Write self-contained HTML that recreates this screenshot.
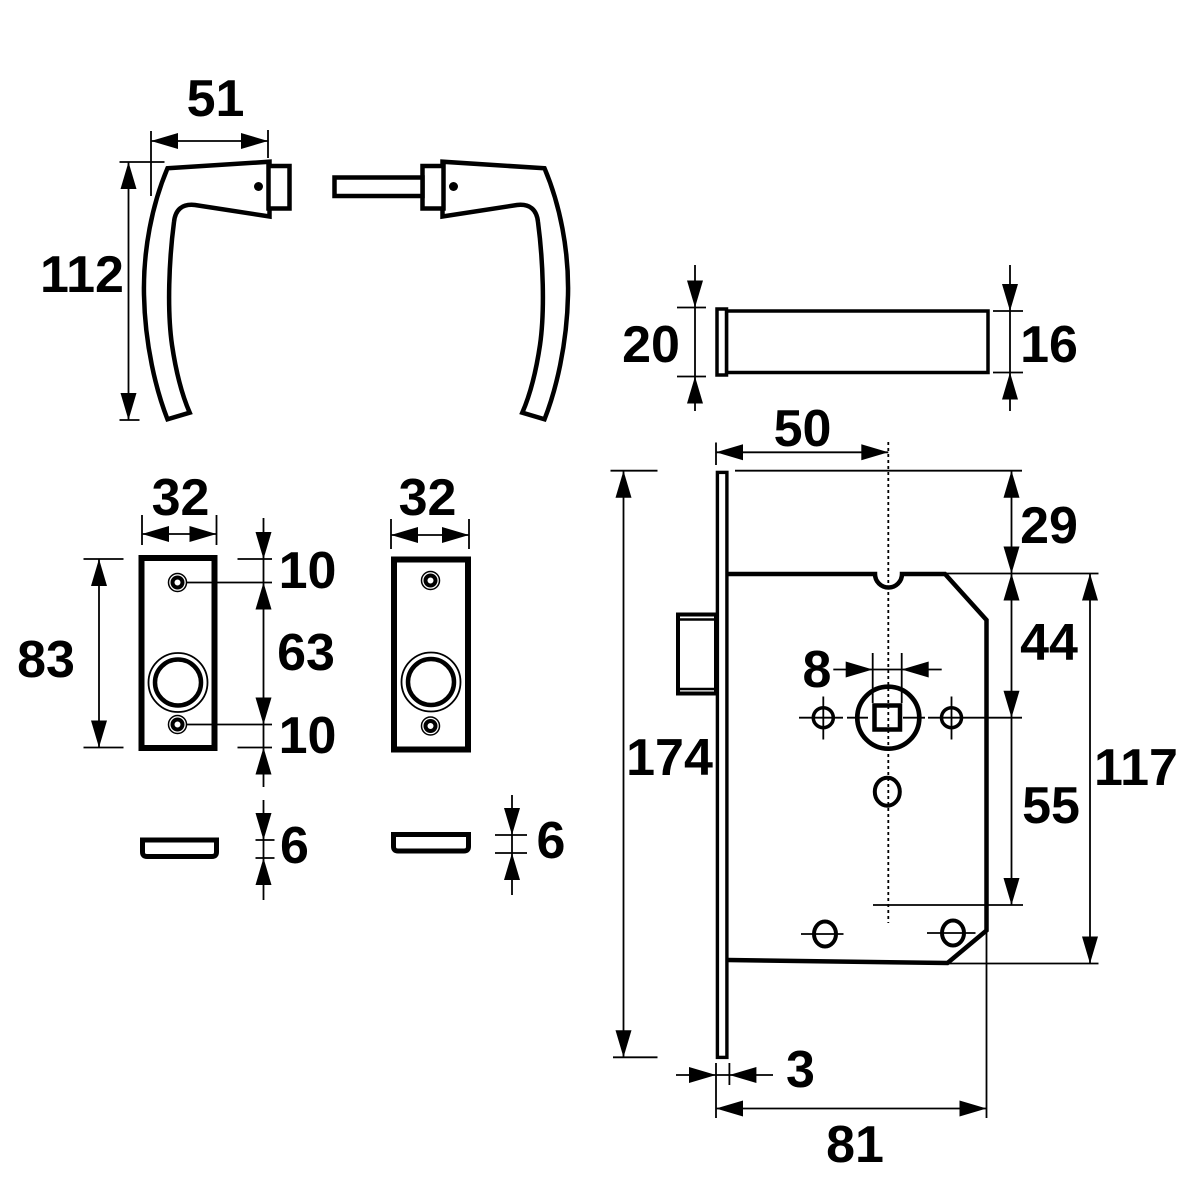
<!DOCTYPE html>
<html><head><meta charset="utf-8"><style>
html,body{margin:0;padding:0;background:#fff;}
svg{display:block;}
text{font-family:"Liberation Sans",Arial,sans-serif;font-weight:bold;font-size:52px;fill:#000;text-anchor:middle;}
</style></head><body>
<svg width="1181" height="1181" viewBox="0 0 1181 1181" xmlns="http://www.w3.org/2000/svg">
<rect width="1181" height="1181" fill="#fff"/>

<!-- ===== Handles ===== -->
<g id="lh" fill="#fff" stroke="#000" stroke-width="4.5" stroke-linejoin="miter">
  <path d="M167.5,168.3 L269.5,161.7 L269.5,216.5 L195,205 Q176,203 174,222 C169,260 167,310 172,345 C176,372 182,395 189.7,412.7 L167.5,419.3 C156,390 145,345 144,295 C143,250 152,205 167.5,168.3 Z"/>
  <rect x="268.5" y="166" width="21" height="42.5" stroke-width="4.5"/>
  <circle cx="258.5" cy="186.5" r="4.5" fill="#000" stroke="none"/>
</g>
<g transform="translate(712,0) scale(-1,1)" fill="#fff" stroke="#000" stroke-width="4.5">
  <path d="M167.5,168.3 L269.5,161.7 L269.5,216.5 L195,205 Q176,203 174,222 C169,260 167,310 172,345 C176,372 182,395 189.7,412.7 L167.5,419.3 C156,390 145,345 144,295 C143,250 152,205 167.5,168.3 Z"/>
  <rect x="268.5" y="166" width="21" height="42.5"/>
  <circle cx="258.5" cy="186.5" r="4.5" fill="#000" stroke="none"/>
</g>
<rect x="334.5" y="177.5" width="88" height="18.5" fill="#fff" stroke="#000" stroke-width="4.5"/>

<!-- handle dims -->
<g stroke="#000" stroke-width="1.8" fill="none">
  <line x1="151" y1="131" x2="151" y2="196"/>
  <line x1="268" y1="130" x2="268" y2="158"/>
  <line x1="151" y1="141" x2="268" y2="141"/>
  <line x1="119.5" y1="162" x2="164.5" y2="162"/>
  <line x1="128.5" y1="162" x2="128.5" y2="420"/>
  <line x1="119.5" y1="420" x2="139.5" y2="420"/>
</g>
<g fill="#000">
  <polygon points="151,141 178,133 178,149"/>
  <polygon points="268,141 241,133 241,149"/>
  <polygon points="128.5,162 120.5,189 136.5,189"/>
  <polygon points="128.5,420 120.5,393 136.5,393"/>
</g>
<text x="215.5" y="116">51</text>
<text x="82" y="292">112</text>

<!-- ===== Cylinder ===== -->
<g fill="#fff" stroke="#000" stroke-width="3.5">
  <rect x="726.5" y="311" width="261.5" height="61.5"/>
  <rect x="717" y="309" width="9.5" height="66"/>
</g>
<g stroke="#000" stroke-width="1.8">
  <line x1="695" y1="265" x2="695" y2="411"/>
  <line x1="677" y1="307.5" x2="706" y2="307.5"/>
  <line x1="677" y1="376.5" x2="706" y2="376.5"/>
  <line x1="1010" y1="265" x2="1010" y2="411"/>
  <line x1="993" y1="311" x2="1023" y2="311"/>
  <line x1="993" y1="372.5" x2="1023" y2="372.5"/>
</g>
<g fill="#000">
  <polygon points="695,307.5 687,280.5 703,280.5"/>
  <polygon points="695,376.5 687,403.5 703,403.5"/>
  <polygon points="1010,311 1002,284 1018,284"/>
  <polygon points="1010,372.5 1002,399.5 1018,399.5"/>
</g>
<text x="651" y="362">20</text>
<text x="1049" y="362">16</text>

<!-- ===== Plates ===== -->
<g fill="#fff" stroke="#000" stroke-width="6">
  <rect x="141.5" y="558" width="73" height="190"/>
  <rect x="394" y="559.5" width="74" height="190"/>
</g>
<g fill="none" stroke="#000">
  <!-- left plate holes -->
  <circle cx="177.5" cy="582.5" r="9" stroke-width="1.5"/>
  <circle cx="177.5" cy="582.5" r="5" stroke-width="4"/>
  <circle cx="177.5" cy="724.5" r="9" stroke-width="1.5"/>
  <circle cx="177.5" cy="724.5" r="5" stroke-width="4"/>
  <circle cx="178" cy="682.5" r="29.5" stroke-width="1.8"/>
  <circle cx="178" cy="682.5" r="23" stroke-width="4.5"/>
  <!-- right plate holes -->
  <circle cx="430.5" cy="580.5" r="9" stroke-width="1.5"/>
  <circle cx="430.5" cy="580.5" r="5" stroke-width="4"/>
  <circle cx="430.5" cy="726" r="9" stroke-width="1.5"/>
  <circle cx="430.5" cy="726" r="5" stroke-width="4"/>
  <circle cx="431" cy="682" r="29.5" stroke-width="1.8"/>
  <circle cx="431" cy="682" r="23" stroke-width="4.5"/>
</g>
<!-- side views -->
<g fill="#fff" stroke="#000" stroke-width="5">
  <path d="M142.5,840 L216.5,840 L216.5,852 Q216.5,856.5 212,856.5 L147,856.5 Q142.5,856.5 142.5,852 Z"/>
  <path d="M393.5,834.5 L468.5,834.5 L468.5,846.5 Q468.5,851 464,851 L398,851 Q393.5,851 393.5,846.5 Z"/>
</g>
<!-- plate dims -->
<g stroke="#000" stroke-width="1.8">
  <line x1="142" y1="515" x2="142" y2="545"/>
  <line x1="216.5" y1="515" x2="216.5" y2="545"/>
  <line x1="142" y1="534" x2="216.5" y2="534"/>
  <line x1="391" y1="519" x2="391" y2="549"/>
  <line x1="469" y1="519" x2="469" y2="549"/>
  <line x1="391" y1="535" x2="469" y2="535"/>
  <line x1="83.5" y1="559" x2="123.5" y2="559"/>
  <line x1="83.5" y1="747.5" x2="123.5" y2="747.5"/>
  <line x1="99" y1="559" x2="99" y2="747.5"/>
  <line x1="237.5" y1="559" x2="272" y2="559"/>
  <line x1="237.5" y1="747.5" x2="272" y2="747.5"/>
  <line x1="186" y1="582.5" x2="272" y2="582.5"/>
  <line x1="186" y1="724.5" x2="272" y2="724.5"/>
  <line x1="263.5" y1="518" x2="263.5" y2="787"/>
  <line x1="263.5" y1="800" x2="263.5" y2="900"/>
  <line x1="255.5" y1="840" x2="274.5" y2="840"/>
  <line x1="255.5" y1="858" x2="274.5" y2="858"/>
  <line x1="512" y1="795" x2="512" y2="895"/>
  <line x1="495" y1="835" x2="527" y2="835"/>
  <line x1="495" y1="853" x2="527" y2="853"/>
</g>
<g fill="#000">
  <polygon points="142,534 169,526 169,542"/>
  <polygon points="216.5,534 189.5,526 189.5,542"/>
  <polygon points="391,535 418,527 418,543"/>
  <polygon points="469,535 442,527 442,543"/>
  <polygon points="99,559 91,586 107,586"/>
  <polygon points="99,747.5 91,720.5 107,720.5"/>
  <polygon points="263.5,559 255.5,532 271.5,532"/>
  <polygon points="263.5,582.5 255.5,609.5 271.5,609.5"/>
  <polygon points="263.5,724.5 255.5,697.5 271.5,697.5"/>
  <polygon points="263.5,747.5 255.5,774.5 271.5,774.5"/>
  <polygon points="263.5,840 255.5,813 271.5,813"/>
  <polygon points="263.5,858 255.5,885 271.5,885"/>
  <polygon points="512,835 504,808 520,808"/>
  <polygon points="512,853 504,880 520,880"/>
</g>
<text x="180.5" y="515">32</text>
<text x="427.5" y="515">32</text>
<text x="46" y="677">83</text>
<text x="307.5" y="588">10</text>
<text x="306" y="670">63</text>
<text x="307.5" y="753">10</text>
<text x="294.5" y="863">6</text>
<text x="551" y="858">6</text>

<!-- ===== Lock case ===== -->
<!-- latch -->
<rect x="678" y="614.5" width="38" height="79" fill="#fff" stroke="#000" stroke-width="4"/>
<g stroke="#000" stroke-width="2.5">
  <line x1="680" y1="619.5" x2="716" y2="619.5"/>
  <line x1="680" y1="689" x2="716" y2="689"/>
</g>
<!-- case body -->
<path d="M728,574 L875,574 A13.5,13.5 0 0 0 902,574 L945,574 L986.5,620 L986.5,930.5 L947.5,963 L728,960" fill="#fff" stroke="#000" stroke-width="4.5" stroke-linejoin="miter"/>
<!-- forend -->
<rect x="717.4" y="472.4" width="9.5" height="585" fill="#fff" stroke="#000" stroke-width="3.4"/>

<!-- centre lines -->
<line x1="888.3" y1="442" x2="888.3" y2="923" stroke="#000" stroke-width="1.8" stroke-dasharray="3,3"/>
<g stroke="#000" stroke-width="1.8">
  <line x1="799" y1="717.7" x2="843" y2="717.7"/>
  <line x1="847" y1="717.7" x2="868" y2="717.7"/>
  <line x1="903" y1="717.7" x2="925" y2="717.7"/>
  <line x1="928" y1="717.7" x2="1022" y2="717.7"/>
  <line x1="823.3" y1="696.5" x2="823.3" y2="739.5"/>
  <line x1="951.5" y1="696.5" x2="951.5" y2="739.5"/>
  <line x1="801" y1="934" x2="843.5" y2="934"/>
  <line x1="927" y1="933" x2="975.5" y2="933"/>
</g>
<g fill="none" stroke="#000">
  <circle cx="888.3" cy="717.7" r="31" stroke-width="4.7"/>
  <rect x="874.5" y="705.5" width="25.5" height="24" stroke-width="4.5"/>
  <circle cx="823.3" cy="717.7" r="10" stroke-width="3.5"/>
  <circle cx="951.5" cy="717.7" r="10" stroke-width="3.5"/>
  <ellipse cx="887.3" cy="791.7" rx="12.5" ry="14" stroke-width="4"/>
  <ellipse cx="825" cy="934" rx="11" ry="12.5" stroke-width="4"/>
  <ellipse cx="953" cy="933" rx="11" ry="12.5" stroke-width="4"/>
</g>

<!-- lock dims -->
<g stroke="#000" stroke-width="1.8">
  <!-- 50 -->
  <line x1="716" y1="442.5" x2="716" y2="465"/>
  <line x1="716" y1="452.3" x2="888.3" y2="452.3"/>
  <!-- top ext -->
  <line x1="735" y1="470.7" x2="1022" y2="470.7"/>
  <line x1="945" y1="573.5" x2="1098.5" y2="573.5"/>
  <line x1="873" y1="905" x2="1023" y2="905"/>
  <line x1="947" y1="963.5" x2="1098.5" y2="963.5"/>
  <line x1="1011.5" y1="470.7" x2="1011.5" y2="905"/>
  <line x1="1090" y1="573.5" x2="1090" y2="963.5"/>
  <!-- 174 -->
  <line x1="610.5" y1="470.7" x2="657.5" y2="470.7"/>
  <line x1="613" y1="1057.3" x2="657.5" y2="1057.3"/>
  <line x1="623.5" y1="470.7" x2="623.5" y2="1057.3"/>
  <!-- 8 -->
  <line x1="872.7" y1="653" x2="872.7" y2="703"/>
  <line x1="901.7" y1="653" x2="901.7" y2="703"/>
  <line x1="833.3" y1="669.5" x2="941.7" y2="669.5"/>
  <!-- 3 / 81 -->
  <line x1="716" y1="1063" x2="716" y2="1118"/>
  <line x1="729.4" y1="1063" x2="729.4" y2="1085"/>
  <line x1="676" y1="1075" x2="773" y2="1075"/>
  <line x1="716" y1="1108.5" x2="986.5" y2="1108.5"/>
  <line x1="986.5" y1="930" x2="986.5" y2="1118"/>
</g>
<g fill="#000">
  <polygon points="716,452.3 743,444.3 743,460.3"/>
  <polygon points="888.3,452.3 861.3,444.3 861.3,460.3"/>
  <polygon points="623.5,470.7 615.5,497.7 631.5,497.7"/>
  <polygon points="623.5,1057.3 615.5,1030.3 631.5,1030.3"/>
  <polygon points="1011.5,470.7 1003.5,497.7 1019.5,497.7"/>
  <polygon points="1011.5,573.5 1003.5,546.5 1019.5,546.5"/>
  <polygon points="1011.5,573.5 1003.5,600.5 1019.5,600.5"/>
  <polygon points="1011.5,717.7 1003.5,690.7 1019.5,690.7"/>
  <polygon points="1011.5,905 1003.5,878 1019.5,878"/>
  <polygon points="1090,573.5 1082,600.5 1098,600.5"/>
  <polygon points="1090,963.5 1082,936.5 1098,936.5"/>
  <polygon points="872.7,669.5 845.7,661.5 845.7,677.5"/>
  <polygon points="901.7,669.5 928.7,661.5 928.7,677.5"/>
  <polygon points="716,1075 689,1067 689,1083"/>
  <polygon points="729.4,1075 756.4,1067 756.4,1083"/>
  <polygon points="716,1108.5 743,1100.5 743,1116.5"/>
  <polygon points="986.5,1108.5 959.5,1100.5 959.5,1116.5"/>
</g>
<text x="802.5" y="446">50</text>
<text x="1049" y="543">29</text>
<text x="1049" y="660">44</text>
<text x="817" y="687">8</text>
<text x="669.5" y="775">174</text>
<text x="1136" y="785">117</text>
<text x="1051" y="823">55</text>
<text x="800.5" y="1087">3</text>
<text x="855" y="1162">81</text>
</svg>
</body></html>
